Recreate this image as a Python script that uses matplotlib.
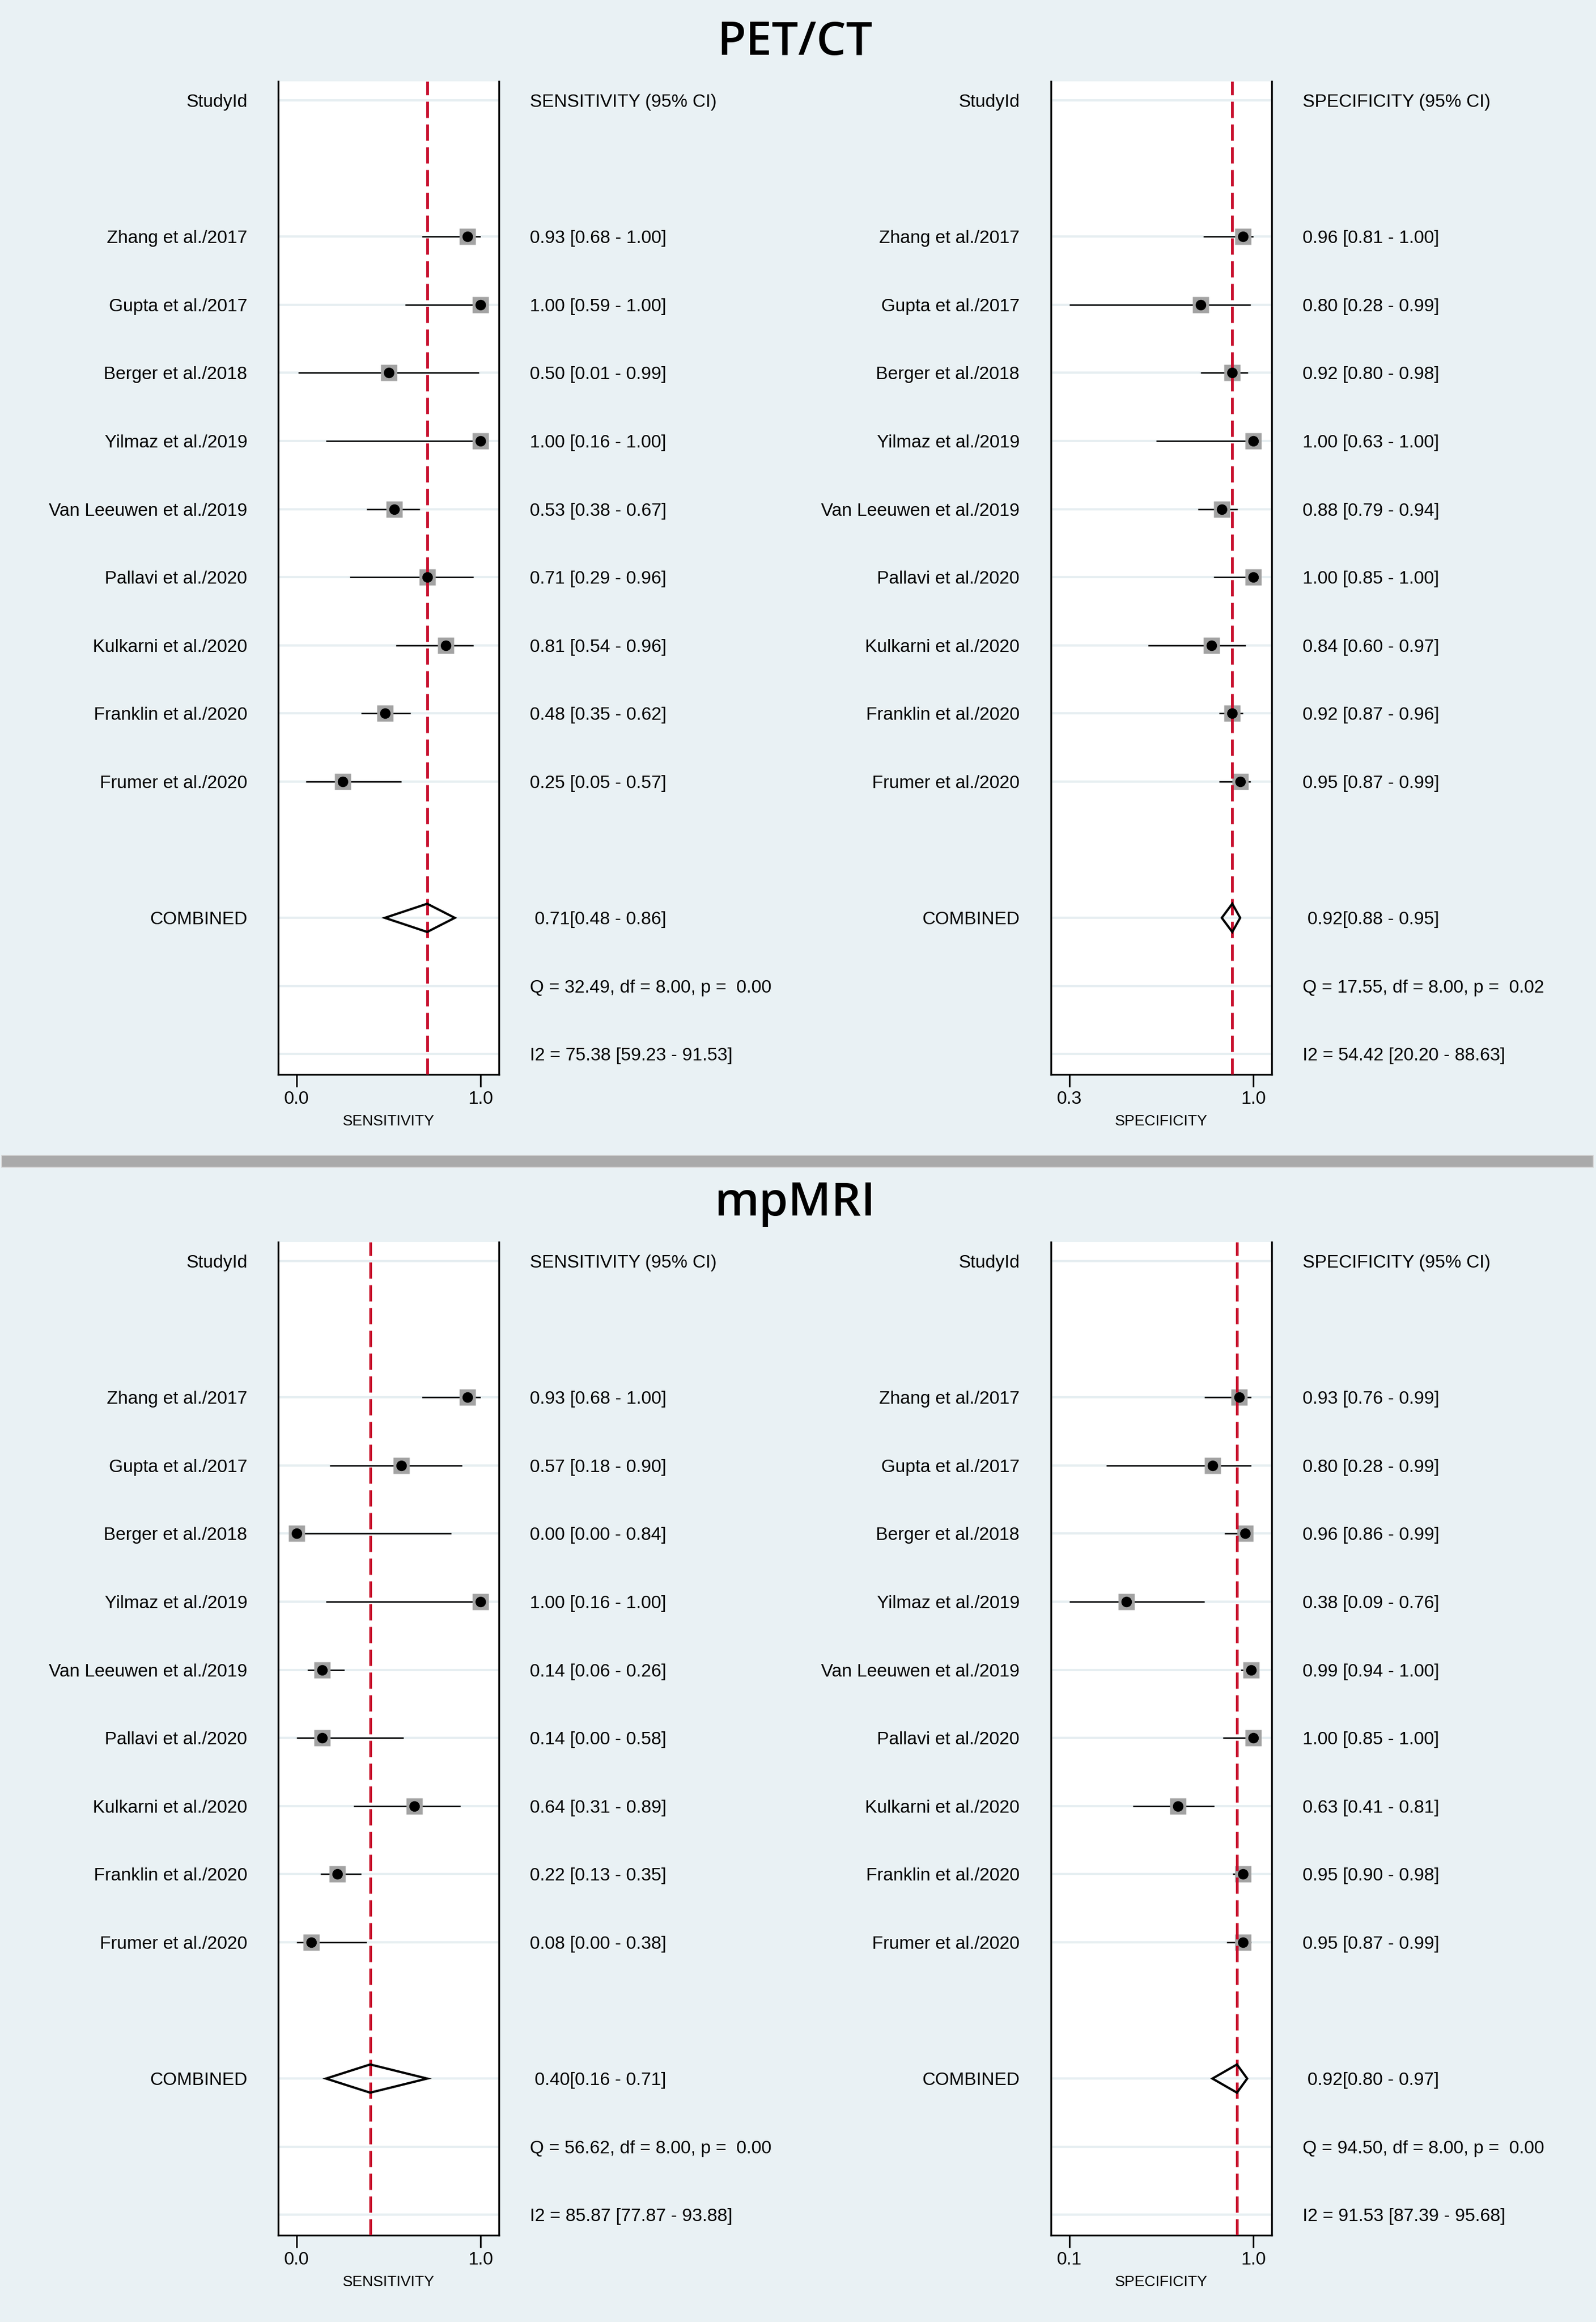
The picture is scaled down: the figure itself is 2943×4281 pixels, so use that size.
import numpy as np
import matplotlib
matplotlib.use("Agg")
import matplotlib.pyplot as plt
from matplotlib import transforms
from matplotlib.patches import Rectangle, Polygon

# ---------------- data ----------------
studies = ["Zhang et al./2017", "Gupta et al./2017", "Berger et al./2018",
           "Yilmaz et al./2019", "Van Leeuwen et al./2019", "Pallavi et al./2020",
           "Kulkarni et al./2020", "Franklin et al./2020", "Frumer et al./2020"]

# PET/CT sensitivity
pet_sens = [0.93, 1.00, 0.50, 1.00, 0.53, 0.71, 0.81, 0.48, 0.25]
pet_sens_lo = [0.68, 0.59, 0.01, 0.16, 0.38, 0.29, 0.54, 0.35, 0.05]
pet_sens_hi = [1.00, 1.00, 0.99, 1.00, 0.67, 0.96, 0.96, 0.62, 0.57]
pet_sens_comb = [0.71, 0.48, 0.86]
pet_sens_q = [32.49, 8.00, 0.00]
pet_sens_i2 = [75.38, 59.23, 91.53]

# PET/CT specificity
pet_spec = [0.96, 0.80, 0.92, 1.00, 0.88, 1.00, 0.84, 0.92, 0.95]
pet_spec_lo = [0.81, 0.28, 0.80, 0.63, 0.79, 0.85, 0.60, 0.87, 0.87]
pet_spec_hi = [1.00, 0.99, 0.98, 1.00, 0.94, 1.00, 0.97, 0.96, 0.99]
pet_spec_comb = [0.92, 0.88, 0.95]
pet_spec_q = [17.55, 8.00, 0.02]
pet_spec_i2 = [54.42, 20.20, 88.63]

# mpMRI sensitivity
mri_sens = [0.93, 0.57, 0.00, 1.00, 0.14, 0.14, 0.64, 0.22, 0.08]
mri_sens_lo = [0.68, 0.18, 0.00, 0.16, 0.06, 0.00, 0.31, 0.13, 0.00]
mri_sens_hi = [1.00, 0.90, 0.84, 1.00, 0.26, 0.58, 0.89, 0.35, 0.38]
mri_sens_comb = [0.40, 0.16, 0.71]
mri_sens_q = [56.62, 8.00, 0.00]
mri_sens_i2 = [85.87, 77.87, 93.88]

# mpMRI specificity
mri_spec = [0.93, 0.80, 0.96, 0.38, 0.99, 1.00, 0.63, 0.95, 0.95]
mri_spec_lo = [0.76, 0.28, 0.86, 0.09, 0.94, 0.85, 0.41, 0.90, 0.87]
mri_spec_hi = [0.99, 0.99, 0.99, 0.76, 1.00, 1.00, 0.81, 0.98, 0.99]
mri_spec_comb = [0.92, 0.80, 0.97]
mri_spec_q = [94.50, 8.00, 0.00]
mri_spec_i2 = [91.53, 87.39, 95.68]

sens_ticks = [0.0, 1.0]
pet_spec_ticks = [0.3, 1.0]
mri_spec_ticks = [0.1, 1.0]

titles = ["PET/CT", "mpMRI"]

# ---------------- style / layout ----------------
W, H, DPI = 2943, 4281, 100
BG = "#e9f1f4"
GRID = "#e6eef1"
RED = "#c8102e"
SQ = "#a3a3a3"
FONT = "Liberation Sans"
TFONT = "Open Sans"
CAP = 0.358          # half cap-height (em) of Liberation Sans
TCAP = 0.357         # half cap-height (em) of Open Sans

ROW0, ROWSTEP = 185.0, 125.6
BOX_TOP, BOX_BOT = 150.0, 1981.0
SHIFT = 2140.0
BOX_X = [(513, 920), (1938, 2345)]
LABEL_X = [456, 1880]
VALUE_X = [977, 2402]
COMB_X = [986, 2411]
FS = 24
FS_AX = 20

plt.rcParams["font.family"] = [FONT, "DejaVu Sans"]
fig = plt.figure(figsize=(W / DPI, H / DPI), dpi=DPI, facecolor=BG)


def put(x_px, y, s, fs, ax=None, ha="left", cap=CAP, **kw):
    if ax is not None:
        tr = transforms.blended_transform_factory(fig.transFigure, ax.transData)
        xx, yy = x_px / W, y
    else:
        tr = fig.transFigure
        xx, yy = x_px / W, 1 - y / H
    tr = transforms.offset_copy(tr, fig=fig, x=0, y=-cap * fs, units="points")
    fig.text(xx, yy, s, transform=tr, ha=ha, va="baseline", fontsize=fs, **kw)


def forest(col, off, est, lo, hi, comb, q, i2, ticks, name):
    x0, x1 = BOX_X[col]
    ax = fig.add_axes([x0 / W, 1 - (BOX_BOT + off) / H,
                       (x1 - x0) / W, (BOX_BOT - BOX_TOP) / H])
    ax.set_facecolor("white")
    t0, t1 = ticks
    pad = 0.1 * (t1 - t0)
    ax.set_xlim(t0 - pad, t1 + pad)
    ax.set_ylim((BOX_BOT - ROW0) / ROWSTEP, (BOX_TOP - ROW0) / ROWSTEP)

    n = len(est)
    rows = np.arange(2, 2 + n)
    r_comb, r_q, r_i2 = n + 3, n + 4, n + 5
    grid_rows = np.concatenate([[0], rows, [r_comb, r_q, r_i2]])
    ax.hlines(grid_rows, t0 - pad, t1 + pad, color=GRID, lw=3, zorder=1)

    est = np.asarray(est); lo = np.asarray(lo); hi = np.asarray(hi)
    ax.hlines(rows, np.clip(lo, t0, t1), np.clip(hi, t0, t1), color="black",
              lw=1.9, zorder=2)
    ax.plot(est, rows, "s", ms=21.5, mfc=SQ, mec="none", zorder=3)
    ax.axvline(comb[0], color=RED, lw=3.6, dashes=(6, 2.4), zorder=3.5)
    ax.plot(est, rows, "o", ms=13, mfc="black", mec="black", zorder=4)

    dh = 0.207
    dia = Polygon([(comb[1], r_comb), (comb[0], r_comb - dh), (comb[2], r_comb),
                   (comb[0], r_comb + dh)], closed=True, fill=False,
                  ec="black", lw=3.0, joinstyle="miter", zorder=5)
    ax.add_patch(dia)

    for s in ["left", "right", "bottom"]:
        ax.spines[s].set_linewidth(2.4)
        ax.spines[s].set_color("black")
    ax.spines["top"].set_visible(False)
    ax.set_yticks([])
    ax.set_xticks(ticks)
    ax.set_xticklabels([f"{t:.1f}" for t in ticks])
    ax.tick_params(axis="x", length=16.5, width=2.2, labelsize=FS, pad=5,
                   direction="out")

    # texts
    put(LABEL_X[col], 0, "StudyId", FS, ax, ha="right")
    put(VALUE_X[col], 0, f"{name} (95% CI)", FS, ax)
    for r, s, e, l, h in zip(rows, studies, est, lo, hi):
        put(LABEL_X[col], r, s, FS, ax, ha="right")
        put(VALUE_X[col], r, f"{e:.2f} [{l:.2f} - {h:.2f}]", FS, ax)
    put(LABEL_X[col], r_comb, "COMBINED", FS, ax, ha="right")
    put(COMB_X[col], r_comb, f"{comb[0]:.2f}[{comb[1]:.2f} - {comb[2]:.2f}]", FS, ax)
    put(VALUE_X[col], r_q, f"Q = {q[0]:.2f}, df = {q[1]:.2f}, p =  {q[2]:.2f}", FS, ax)
    put(VALUE_X[col], r_i2, f"I2 = {i2[0]:.2f} [{i2[1]:.2f} - {i2[2]:.2f}]", FS, ax)
    put((x0 + x1) / 2, 2065 + off, name, FS_AX, None, ha="center")
    return ax


panels = [
    (0.0, titles[0],
     (pet_sens, pet_sens_lo, pet_sens_hi, pet_sens_comb, pet_sens_q, pet_sens_i2, sens_ticks),
     (pet_spec, pet_spec_lo, pet_spec_hi, pet_spec_comb, pet_spec_q, pet_spec_i2, pet_spec_ticks)),
    (SHIFT, titles[1],
     (mri_sens, mri_sens_lo, mri_sens_hi, mri_sens_comb, mri_sens_q, mri_sens_i2, sens_ticks),
     (mri_spec, mri_spec_lo, mri_spec_hi, mri_spec_comb, mri_spec_q, mri_spec_i2, mri_spec_ticks)),
]

for off, title, sens, spec in panels:
    put(1466, 70 + off, title, 62, None, ha="center", cap=TCAP,
        family=[TFONT, "DejaVu Sans"], weight="semibold")
    forest(0, off, *sens, "SENSITIVITY")
    forest(1, off, *spec, "SPECIFICITY")

# separator bar between the two figures
fig.add_artist(Rectangle((3 / W, 1 - 2152 / H), 2935 / W, 22 / H,
                         transform=fig.transFigure, facecolor="#aaaaaa",
                         edgecolor="#d6d6d6", lw=1.2))

fig.savefig("out.png", dpi=DPI, facecolor=BG)
